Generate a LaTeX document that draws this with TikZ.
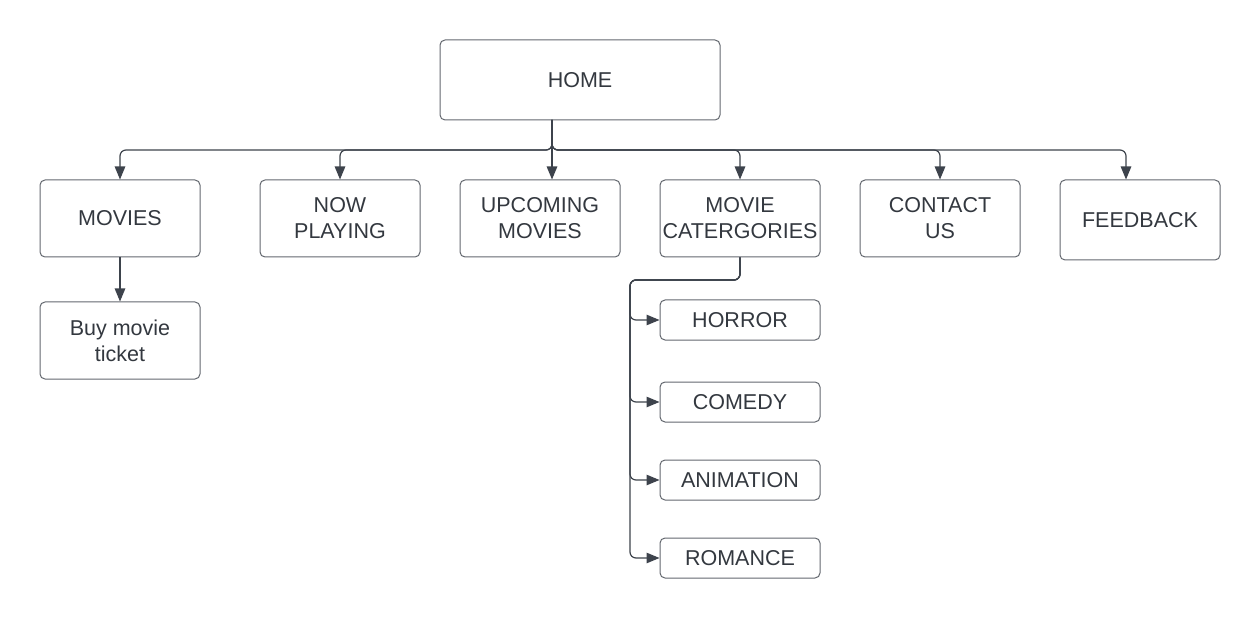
\documentclass[tikz,border=0pt]{standalone}
\usepackage{fontspec}
\setmainfont{Liberation Sans}
\usepackage{xcolor}
\usetikzlibrary{arrows.meta}

\definecolor{linecol}{HTML}{3D434C}
\definecolor{boxcol}{HTML}{63676E}
\definecolor{textcol}{HTML}{33383F}

\begin{document}
\begin{tikzpicture}[x=1pt,y=1pt,
    box/.style={draw=boxcol,line width=1pt,rounded corners=5pt,text=textcol,
      align=center,font=\fontsize{21.5}{26}\selectfont,inner sep=0pt,
      minimum width=160pt,minimum height=77pt},
    small/.style={box,minimum height=40pt},
    conn/.style={draw=linecol,line width=1.2pt,rounded corners=6pt,
      -{Triangle[length=13pt,width=10.5pt]}}]
    \useasboundingbox (0,0) rectangle (1260,-617);

    % top node and first level
    \node[box,minimum width=280pt,minimum height=80pt] (home) at (580,-80) {HOME};
    \node[box] (movies) at (120,-218.5) {MOVIES};
    \node[box] (nowplaying) at (340,-218.5) {NOW\\PLAYING};
    \node[box] (upcoming) at (540,-218.5) {UPCOMING\\MOVIES};
    \node[box] (moviecat) at (740,-218.5) {MOVIE\\CATERGORIES};
    \node[box] (contact) at (940,-218.5) {CONTACT\\US};
    \node[box,minimum height=80pt] (feedback) at (1140,-220) {FEEDBACK};
    \node[box] (ticket) at (120,-340.5) {Buy movie\\ticket};

    % categories
    \node[small] (horror) at (740,-320) {HORROR};
    \node[small] (comedy) at (740,-402) {COMEDY};
    \node[small] (animation) at (740,-480) {ANIMATION};
    \node[small] (romance) at (740,-558) {ROMANCE};

    \coordinate (hub) at (552,-120);
    \coordinate (bus) at (552,-150);
    \coordinate (trunk) at (630,-280);

    % Bus arrows
    \draw[conn] (hub) -- (bus) -| (movies.north);
    \draw[conn] (hub) -- (bus) -| (nowplaying.north);
    \draw[conn] (hub) -- (upcoming.north -| hub);
    \draw[conn] (hub) -- (bus) -| (moviecat.north);
    \draw[conn] (hub) -- (bus) -| (contact.north);
    \draw[conn] (hub) -- (bus) -| ([xshift=-14pt]feedback.north);
    \draw[conn] (movies) -- (ticket);

    % Branch arrows
    \foreach \cat in {horror,comedy,animation,romance}
        \draw[conn] (moviecat.south) |- (trunk) |- (\cat.west);
\end{tikzpicture}
\end{document}
